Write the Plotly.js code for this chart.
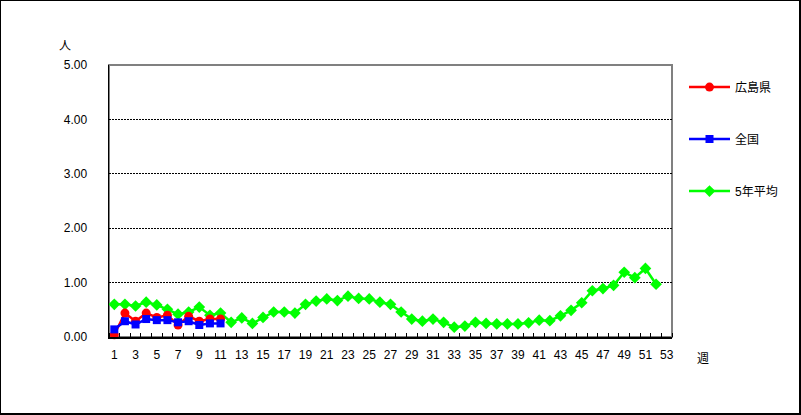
<!DOCTYPE html>
<html>
<head>
<meta charset="utf-8">
<script src="https://cdn.plot.ly/plotly-3.0.1.min.js"></script>
<style>
html,body{margin:0;padding:0;background:#fff;}
#wrap{position:relative;width:801px;height:415px;}
#chart{position:absolute;left:0;top:0;width:801px;height:415px;}
#frame{position:absolute;left:0;top:0;width:801px;height:415px;box-sizing:border-box;border:1px solid #000;border-right-width:2px;border-bottom-width:2px;pointer-events:none;}
</style>
</head>
<body>
<div id="wrap"><div id="chart"></div><div id="frame"></div></div>
<script>
const weeks = Array.from({length: 52}, (_, i) => i + 1);
const weeksShort = weeks.slice(0, 11);
const hiroshima = [0.04, 0.44, 0.29, 0.44, 0.36, 0.40, 0.22, 0.38, 0.29, 0.33, 0.33];
const national = [0.14, 0.29, 0.23, 0.33, 0.31, 0.31, 0.27, 0.29, 0.22, 0.25, 0.25];
const avg5 = [0.60, 0.60, 0.57, 0.64, 0.59, 0.51, 0.42, 0.46, 0.55, 0.40, 0.44, 0.27, 0.35, 0.25, 0.36, 0.46, 0.46, 0.44,
  0.60, 0.66, 0.70, 0.67, 0.75, 0.71, 0.70, 0.64, 0.60, 0.46, 0.33, 0.29, 0.33, 0.27, 0.18, 0.20, 0.27, 0.25,
  0.24, 0.24, 0.24, 0.26, 0.31, 0.30, 0.39, 0.49, 0.63, 0.85, 0.89, 0.95, 1.19, 1.09, 1.26, 0.97];
const xTickVals = [1,3,5,7,9,11,13,15,17,19,21,23,25,27,29,31,33,35,37,39,41,43,45,47,49,51,53];
const xTickText = xTickVals.map(String);
const yTickVals = [0, 1, 2, 3, 4, 5];
const yTickText = ['0.00', '1.00', '2.00', '3.00', '4.00', '5.00'];
const names = ['広島県', '全国', '5年平均'];

const FONT = 'Liberation Sans, Arial, Noto Sans CJK JP, sans-serif';

const traces = [
  {x: weeksShort, y: hiroshima, name: names[0], type: 'scatter', mode: 'lines+markers', legendgroup: 'a', legendrank: 1,
   line: {color: '#FF0000', width: 2.5}, marker: {symbol: 'circle', size: 9, color: '#FF0000'}, cliponaxis: false},
  {x: weeksShort, y: national, name: names[1], type: 'scatter', mode: 'lines+markers', legendgroup: 'b', legendrank: 2,
   line: {color: '#0000FF', width: 2.5}, marker: {symbol: 'square', size: 8, color: '#0000FF'}, cliponaxis: false},
  {x: weeks, y: avg5, name: names[2], type: 'scatter', mode: 'lines+markers', legendgroup: 'c', legendrank: 3,
   line: {color: '#00FF00', width: 2.5}, marker: {symbol: 'diamond', size: 9, color: '#00FF00'}, cliponaxis: false}
];
const ordered = [traces[2], traces[0], traces[1]];

const layout = {
  width: 801, height: 415,
  margin: {l: 109, r: 129, t: 65, b: 78},
  paper_bgcolor: '#fff', plot_bgcolor: '#fff',
  font: {family: FONT, size: 12, color: '#000'},
  showlegend: true,
  legend: {x: (684 - 109) / 563, xanchor: 'left', xref: 'paper', y: 0.972, yanchor: 'top', tracegroupgap: 33,
    font: {family: FONT, size: 12, color: '#000'}, bgcolor: 'rgba(0,0,0,0)', itemwidth: 41},
  xaxis: {range: [0.5, 53.5], tickmode: 'array', tickvals: xTickVals, ticktext: xTickText, ticks: '',
    showgrid: false, zeroline: false, showline: true, linecolor: '#000', linewidth: 1.5, mirror: false,
    ticklabelstandoff: 6, tickfont: {family: FONT, size: 12, color: '#000'},
    minor: {tickmode: 'linear', tick0: 0.5, dtick: 1, ticks: 'inside', ticklen: 4, tickcolor: '#000', tickwidth: 1, showgrid: false}},
  yaxis: {range: [0, 5], tickmode: 'array', tickvals: yTickVals, ticktext: yTickText, ticks: '',
    showgrid: true, gridcolor: '#000', gridwidth: 1, griddash: '2px,1px', zeroline: false,
    showline: true, linecolor: '#000', linewidth: 1.5, ticklabelstandoff: 18,
    tickfont: {family: FONT, size: 12, color: '#000'}},
  shapes: [
    {type: 'rect', xref: 'paper', yref: 'paper', x0: 0, x1: 1, y0: 0, y1: 1, line: {color: '#808080', width: 2}, layer: 'below'}
  ],
  annotations: [
    {text: '人', xref: 'paper', yref: 'paper', x: (65 - 109) / 563, y: 1 + (65 - 44) / 272, xanchor: 'center', yanchor: 'middle', showarrow: false,
     font: {family: 'Noto Sans CJK JP, sans-serif', size: 12, color: '#000'}},
    {text: '週', xref: 'paper', yref: 'paper', x: (703 - 109) / 563, y: -(357 - 337) / 272, xanchor: 'center', yanchor: 'middle', showarrow: false,
     font: {family: 'Noto Sans CJK JP, sans-serif', size: 12, color: '#000'}}
  ]
};

Plotly.newPlot('chart', ordered, layout, {displayModeBar: false, staticPlot: true});
</script>
</body>
</html>
